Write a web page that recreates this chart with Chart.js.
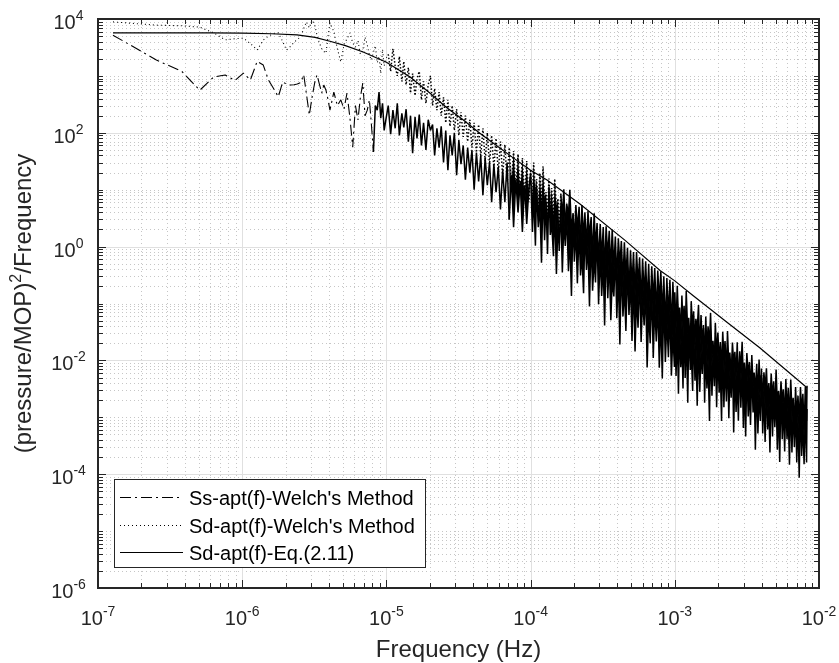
<!DOCTYPE html>
<html><head><meta charset="utf-8">
<script src="https://cdn.jsdelivr.net/npm/chart.js@4.4.1/dist/chart.umd.min.js"></script>
<style>html,body{margin:0;padding:0;background:#fff}canvas{display:block}</style>
</head><body>
<canvas id="c" width="839" height="663"></canvas>
<script>
// ---- data ----
const freqs = [
1.27e-7,2.54e-7,3.81e-7,5.08e-7,6.35e-7,7.62e-7,8.89e-7,1.02e-6,1.14e-6,1.27e-6,1.40e-6,1.52e-6,1.65e-6,1.78e-6,1.91e-6,2.03e-6,2.16e-6,2.29e-6,2.41e-6,2.54e-6,2.67e-6,2.79e-6,2.92e-6,3.05e-6,3.18e-6,3.30e-6,3.43e-6,3.56e-6,3.68e-6,3.81e-6,3.94e-6,4.06e-6,
4.32e-6,4.57e-6,4.83e-6,5.08e-6,5.33e-6,5.59e-6,5.84e-6,6.10e-6,6.35e-6,6.60e-6,6.86e-6,7.11e-6,7.37e-6,7.62e-6,7.87e-6,8.13e-6,8.38e-6,8.64e-6,8.89e-6,9.14e-6,9.40e-6,9.65e-6,9.91e-6,
1.03e-5,1.07e-5,1.11e-5,1.15e-5,1.19e-5,1.23e-5,1.28e-5,1.32e-5,1.37e-5,1.42e-5,1.47e-5,1.52e-5,1.58e-5,1.63e-5,1.69e-5,1.75e-5,1.81e-5,1.88e-5,1.95e-5,2.02e-5,2.09e-5,2.16e-5,2.24e-5,2.32e-5,2.40e-5,2.49e-5,2.58e-5,2.67e-5,2.76e-5,2.86e-5,2.96e-5,3.07e-5,3.18e-5,3.29e-5,3.41e-5,3.53e-5,3.66e-5,3.79e-5,3.92e-5,4.06e-5,4.21e-5,4.36e-5,4.51e-5,4.67e-5,4.84e-5,5.01e-5,5.19e-5,5.37e-5,5.56e-5,5.76e-5,5.97e-5,6.18e-5,6.40e-5,6.63e-5,6.87e-5,7.11e-5,7.36e-5,7.62e-5,7.90e-5,8.18e-5,8.47e-5,8.77e-5,9.08e-5,9.40e-5,9.74e-5,
1.00e-4,1.03e-4,1.05e-4,1.08e-4,1.10e-4,1.13e-4,1.16e-4,1.19e-4,1.22e-4,1.25e-4,1.28e-4,1.31e-4,1.34e-4,1.37e-4,1.40e-4,1.44e-4,1.47e-4,1.51e-4,1.55e-4,1.58e-4,1.62e-4,1.66e-4,1.70e-4,1.74e-4,1.78e-4,1.83e-4,1.87e-4,1.92e-4,1.97e-4,2.01e-4,2.06e-4,2.11e-4,2.17e-4,2.22e-4,2.27e-4,2.33e-4,2.38e-4,2.44e-4,2.50e-4,2.56e-4,2.63e-4,2.69e-4,2.76e-4,2.82e-4,2.89e-4,2.96e-4,3.04e-4,3.11e-4,3.19e-4,3.26e-4,3.34e-4,3.43e-4,3.51e-4,3.60e-4,3.68e-4,3.78e-4,3.87e-4,3.96e-4,4.06e-4,4.16e-4,4.26e-4,4.37e-4,4.47e-4,4.58e-4,4.70e-4,4.81e-4,4.93e-4,5.05e-4,5.17e-4,5.30e-4,5.43e-4,5.56e-4,5.70e-4,5.84e-4,5.98e-4,6.13e-4,6.28e-4,6.43e-4,6.59e-4,6.75e-4,6.92e-4,7.09e-4,7.26e-4,7.44e-4,7.62e-4,7.81e-4,8.00e-4,8.19e-4,8.39e-4,8.60e-4,8.81e-4,9.03e-4,9.25e-4,9.47e-4,9.70e-4,9.94e-4,
1.00e-3,1.02e-3,1.04e-3,1.06e-3,1.08e-3,1.10e-3,1.12e-3,1.14e-3,1.16e-3,1.18e-3,1.20e-3,1.23e-3,1.25e-3,1.28e-3,1.30e-3,1.33e-3,1.35e-3,1.38e-3,1.40e-3,1.43e-3,1.46e-3,1.49e-3,1.52e-3,1.55e-3,1.58e-3,1.61e-3,1.64e-3,1.67e-3,1.70e-3,1.74e-3,1.77e-3,1.81e-3,1.84e-3,1.88e-3,1.91e-3,1.95e-3,1.99e-3,2.03e-3,2.07e-3,2.11e-3,2.15e-3,2.19e-3,2.23e-3,2.28e-3,2.32e-3,2.37e-3,2.41e-3,2.46e-3,2.51e-3,2.56e-3,2.61e-3,2.66e-3,2.71e-3,2.76e-3,2.82e-3,2.87e-3,2.93e-3,2.99e-3,3.04e-3,3.10e-3,3.16e-3,3.23e-3,3.29e-3,3.35e-3,3.42e-3,3.49e-3,3.55e-3,3.62e-3,3.70e-3,3.77e-3,3.84e-3,3.92e-3,3.99e-3,4.07e-3,4.15e-3,4.23e-3,4.32e-3,4.40e-3,4.49e-3,4.57e-3,4.66e-3,4.76e-3,4.85e-3,4.94e-3,5.04e-3,5.14e-3,5.24e-3,5.34e-3,5.45e-3,5.56e-3,5.66e-3,5.78e-3,5.89e-3,6.00e-3,6.12e-3,6.24e-3,6.37e-3,6.49e-3,6.62e-3,6.75e-3,6.88e-3,7.01e-3,7.15e-3,7.29e-3,7.44e-3,7.58e-3,7.73e-3,7.88e-3,8.04e-3,8.20e-3,8.26e-3
];

const ssWelch = [
5200,1900,1200,560,960,1040,830,1120,850,1800,1550,850,600,430,780,720,690,700,720,760,1050,480,205,420,750,1040,720,500,690,560,380,250,
520,300,380,260,500,180,56,300,168,420,750,200,250,380,140,46,300,250,520,180,330,110,168,
300,95,250,120,330,90,220,125,260,70,200,44,190,80,210,60,150,50,170,110,140,40,120,55,130,30,110,22,90,40,100,18,75,28,60,15,55,20,50,10,45,14,40,8,36,12,30,6,28,9,25,4.5,22,6,30,3,18,2.2,15,4,14,1.8,12,2.5,11,
19.5,1.8,8.4,1.04,11.5,2.2,5.0,0.52,10.5,1.29,6.1,0.74,11.2,1.6,2.7,0.68,5.0,0.33,2.85,0.84,5.3,0.35,2.65,1.03,3.7,0.37,1.56,0.136,3.9,0.54,1.94,0.226,2.0,0.31,0.73,0.152,2.15,0.39,1.05,0.089,1.47,0.167,0.61,0.234,1.85,0.097,0.76,0.136,0.50,0.041,0.97,0.124,0.63,0.051,0.26,0.133,0.79,0.055,0.32,0.019,0.47,0.059,0.19,0.033,0.43,0.063,0.238,0.022,0.248,0.0143,0.137,0.0375,0.32,0.021,0.129,0.041,0.184,0.0075,0.074,0.02,0.173,0.011,0.095,0.0215,0.099,0.0074,0.055,0.0048,0.129,0.0094,0.051,0.0114,0.074,0.0054,0.029,0.0077,
0.072,0.0053,0.035,0.0026,0.045,0.0076,0.0225,0.0032,0.064,0.0049,0.032,0.0018,0.041,0.0068,0.0147,0.0029,0.041,0.0044,0.0207,0.0016,0.026,0.0028,0.0152,0.0058,0.042,0.0018,0.018,0.0032,0.0106,0.00086,0.0213,0.0024,0.0126,0.0035,0.0215,0.0015,0.0147,0.0027,0.0064,0.00086,0.020,0.0015,0.0088,0.0019,0.0129,0.00096,0.0066,0.0022,0.0129,0.00054,0.0077,0.00124,0.0046,0.00087,0.012,0.00147,0.0072,0.00065,0.005,0.00046,0.0072,0.00103,0.0032,0.00073,0.0072,0.00121,0.0044,0.00027,0.0047,0.00052,0.0028,0.00086,0.0072,0.00052,0.0028,0.00037,0.004,0.00061,0.0016,0.00024,0.004,0.00046,0.0025,0.00067,0.0026,0.00027,0.0016,0.000164,0.0035,0.00041,0.0016,0.00025,0.0023,0.00041,0.00106,0.000147,0.0022,0.00024,0.0014,0.0003,0.0015,0.00016,0.00105,0.000087,0.0019,0.00021,0.0008,0.00015,0.00127,0.00016,0.0014
];

const sdWelch = [
8900,7800,7600,7200,5700,4300,4500,4600,3700,2850,4270,5000,5500,5700,4000,2850,3300,3900,4400,4800,6800,8900,7000,9600,8000,5200,3800,3000,2700,2500,5000,8500,
6000,3000,1750,3500,4500,5700,3800,3200,4200,2400,2800,4800,3500,2300,1900,2600,3400,1700,2200,1100,2900,1500,2000,
2400,1200,3000,1500,1000,2200,800,1800,700,1400,500,1100,450,900,1200,380,800,330,700,1000,300,600,250,520,200,420,150,380,130,300,110,260,90,230,85,200,70,170,55,150,45,140,38,120,32,100,28,90,24,80,20,70,17,62,14,55,12,48,10,42,8.5,36,7,32,6,
22.9,7.1,29.9,9.2,15.4,4.7,19.8,6.0,25.8,7.1,9.0,3.6,15.7,4.8,10.7,3.5,15.5,5.1,7.0,2.1,8.5,3.35,10.2,2.0,5.7,3.6,10.0,1.96,3.7,1.3,5.4,2.1,5.0,0.93,5.4,1.37,4.0,1.0,4.2,1.5,3.3,0.65,3.85,0.97,2.6,0.57,2.5,0.63,2.2,0.37,2.27,0.68,1.9,0.40,2.0,0.44,1.5,0.26,1.4,0.48,1.25,0.23,1.19,0.31,0.95,0.146,0.86,0.20,0.80,0.143,0.80,0.22,0.65,0.102,0.62,0.141,0.55,0.101,0.50,0.065,0.45,0.112,0.42,0.064,0.38,0.111,0.37,0.064,0.30,0.040,0.28,0.063,0.26,0.036,0.24,0.045,
0.158,0.038,0.205,0.056,0.085,0.0234,0.138,0.038,0.091,0.0229,0.165,0.0295,0.056,0.0157,0.110,0.0316,0.073,0.0189,0.054,0.0337,0.094,0.0146,0.063,0.0207,0.0375,0.0102,0.059,0.0144,0.0396,0.0202,0.068,0.0111,0.0221,0.0084,0.046,0.013,0.031,0.0098,0.0211,0.0061,0.032,0.0113,0.0219,0.0064,0.0329,0.008,0.0138,0.005,0.0206,0.0091,0.0141,0.0052,0.0209,0.0036,0.0145,0.006,0.0212,0.0045,0.0092,0.0035,0.0135,0.0052,0.0094,0.0028,0.0124,0.0037,0.0061,0.0028,0.0087,0.002,0.0104,0.0032,0.0056,0.0021,0.0062,0.0032,0.0073,0.0021,0.004,0.0015,0.0059,0.0022,0.0043,0.0012,0.0069,0.00175,0.0029,0.00137,0.0043,0.0018,0.0031,0.00098,0.0047,0.00121,0.0033,0.00094,0.0046,0.00128,0.0022,0.00067,0.0034,0.00101,0.0024,0.00078,0.0034,0.0012,0.0026,0.00061,0.0034,0.00086,0.0036
];

const eqFreqs = [1.27e-7,3e-7,6e-7,1e-6,1.6e-6,2.4e-6,3.2e-6,4.06e-6,5.2e-6,6.9e-6,1e-5,1.46e-5,2e-5,2.6e-5,3.4e-5,4.4e-5,5.8e-5,7.5e-5,1e-4,1.3e-4,2.2e-4,4.5e-4,7.9e-4,1e-3,1.35e-3,2.3e-3,3.9e-3,8.26e-3];
const sdEq = [5700,5700,5700,5650,5500,5250,4750,4070,3400,2630,1740,955,500,282,170,100,60,37,22,14.8,5.6,1.3,0.38,0.25,0.135,0.047,0.0165,0.0033];

const seriesLabels = ["Ss-apt(f)-Welch's Method", "Sd-apt(f)-Welch's Method", "Sd-apt(f)-Eq.(2.11)"];
const xTickExponents = [-7,-6,-5,-4,-3,-2];
const yTickExponents = [-6,-4,-2,0,2,4];
const xTitle = "Frequency (Hz)";
const yTitleParts = ["(pressure/MOP)", "2", "/Frequency"];

// ---- styling ----
const FONT = '"Liberation Sans", Arial, Helvetica, sans-serif';
const AX = '#262626';
const dashDot = [11,4,2,4];
const dotted = [1,3];
// where the noisy traces become so dense that their dash pattern is no longer visible
const SS_DENSE_FROM = 8e-6;
const SD_SPECKLE_FROM = 1e-5;
const SD_DENSE_FROM = 1.6e-4;
const BAND_FILL_FROM = 7e-5;
const CLEAR = 'rgba(0,0,0,0)';

function pts(xs, ys){ return xs.map((f,i)=>({x:f, y:ys[i]})); }

const frame = {
  id: 'matlabFrame',
  beforeDatasetsDraw(chart){
    const {ctx, chartArea:a, scales:{x, y}} = chart;
    ctx.save();
    ctx.lineWidth = 1;
    ctx.strokeStyle = '#c6c6c6';
    ctx.setLineDash([1,3]);
    ctx.beginPath();
    for (let e = xTickExponents[0]; e < xTickExponents[xTickExponents.length-1]; e++) {
      for (let k = 2; k <= 9; k++) {
        const px = Math.round(x.getPixelForValue(k*Math.pow(10,e))) + 0.5;
        ctx.moveTo(px, a.top); ctx.lineTo(px, a.bottom);
      }
    }
    for (let e = yTickExponents[0]; e < yTickExponents[yTickExponents.length-1]; e++) {
      for (let k = 1; k <= 9; k++) {
        if (k === 1 && yTickExponents.includes(e)) continue;
        const py = Math.round(y.getPixelForValue(k*Math.pow(10,e))) + 0.5;
        ctx.moveTo(a.left, py); ctx.lineTo(a.right, py);
      }
    }
    ctx.stroke();
    ctx.setLineDash([]);
    ctx.strokeStyle = '#e0e0e0';
    ctx.beginPath();
    xTickExponents.forEach(e => {
      const px = Math.round(x.getPixelForValue(Math.pow(10,e))) + 0.5;
      ctx.moveTo(px, a.top); ctx.lineTo(px, a.bottom);
    });
    yTickExponents.forEach(e => {
      const py = Math.round(y.getPixelForValue(Math.pow(10,e))) + 0.5;
      ctx.moveTo(a.left, py); ctx.lineTo(a.right, py);
    });
    ctx.stroke();
    ctx.restore();
  },
  afterDatasetsDraw(chart){
    const {ctx, chartArea:a, scales:{x, y}} = chart;
    ctx.save();
    ctx.strokeStyle = AX;
    ctx.lineWidth = 1;
    ctx.beginPath();
    const xt = (v, len) => { const px = Math.round(x.getPixelForValue(v)) + 0.5;
      ctx.moveTo(px, a.bottom); ctx.lineTo(px, a.bottom - len);
      ctx.moveTo(px, a.top); ctx.lineTo(px, a.top + len); };
    const yt = (v, len) => { const py = Math.round(y.getPixelForValue(v)) + 0.5;
      ctx.moveTo(a.left, py); ctx.lineTo(a.left + len, py);
      ctx.moveTo(a.right, py); ctx.lineTo(a.right - len, py); };
    for (let e = xTickExponents[0]; e < xTickExponents[xTickExponents.length-1]; e++) {
      for (let k = 2; k <= 9; k++) xt(k*Math.pow(10,e), 5);
    }
    xTickExponents.forEach(e => xt(Math.pow(10,e), 8));
    for (let e = yTickExponents[0]; e < yTickExponents[yTickExponents.length-1]; e++) {
      for (let k = 1; k <= 9; k++) {
        if (k === 1 && yTickExponents.includes(e)) continue;
        yt(k*Math.pow(10,e), 5);
      }
    }
    yTickExponents.forEach(e => yt(Math.pow(10,e), 8));
    ctx.stroke();
    ctx.lineWidth = 2;
    ctx.strokeRect(a.left, a.top, a.right - a.left, a.bottom - a.top);
    ctx.restore();
  },
  afterDraw(chart){
    const {ctx, chartArea:a, scales:{x, y}} = chart;
    ctx.save();
    ctx.fillStyle = AX;
    ctx.textBaseline = 'alphabetic';
    ctx.textAlign = 'left';
    const mainF = '20px ' + FONT, expF = '14px ' + FONT;
    function powLabel(cx, base, e){
      ctx.font = mainF; const w1 = ctx.measureText('10').width;
      const es = String(e);
      ctx.font = expF; const w2 = ctx.measureText(es).width;
      const sx = cx - (w1 + w2)/2;
      ctx.font = mainF; ctx.fillText('10', sx, base);
      ctx.font = expF; ctx.fillText(es, sx + w1, base - 9);
    }
    xTickExponents.forEach(e => {
      const px = x.getPixelForValue(Math.pow(10,e));
      powLabel(px, a.bottom + 37, e);
    });
    yTickExponents.forEach(e => {
      const py = y.getPixelForValue(Math.pow(10,e));
      powLabel(a.left - 29.5, py + 10, e);
    });
    ctx.font = '24px ' + FONT;
    ctx.textAlign = 'center';
    ctx.fillText(xTitle, (a.left + a.right)/2, a.bottom + 69);
    ctx.textAlign = 'left';
    const bigF = '24px ' + FONT, supF = '16px ' + FONT;
    ctx.font = bigF; const w1 = ctx.measureText(yTitleParts[0]).width;
    ctx.font = supF; const w2 = ctx.measureText(yTitleParts[1]).width;
    ctx.font = bigF; const w3 = ctx.measureText(yTitleParts[2]).width;
    const tot = w1 + w2 + w3;
    ctx.translate(31, (a.top + a.bottom)/2);
    ctx.rotate(-Math.PI/2);
    const sx = -tot/2;
    ctx.font = bigF; ctx.fillText(yTitleParts[0], sx, 0);
    ctx.font = supF; ctx.fillText(yTitleParts[1], sx + w1, -10);
    ctx.font = bigF; ctx.fillText(yTitleParts[2], sx + w1 + w2, 0);
    ctx.setTransform(1,0,0,1,0,0);
    // legend
    const lx = a.left + 16, ly = a.bottom - 109, lw = 311, lh = 88;
    ctx.fillStyle = '#fff';
    ctx.fillRect(lx, ly, lw, lh);
    ctx.strokeStyle = AX; ctx.lineWidth = 1;
    ctx.strokeRect(lx + 0.5, ly + 0.5, lw, lh);
    const rows = [18, 46, 73];
    chart.data.datasets.forEach((ds, i) => {
      const yy = ly + rows[i] + 0.5;
      ctx.strokeStyle = '#000';
      ctx.lineWidth = ds.borderWidth;
      ctx.setLineDash(ds.borderDash || []);
      ctx.beginPath(); ctx.moveTo(lx + 6, yy); ctx.lineTo(lx + 69, yy); ctx.stroke();
      ctx.setLineDash([]);
      ctx.fillStyle = '#000';
      ctx.font = '20px ' + FONT;
      ctx.textAlign = 'left';
      ctx.fillText(ds.label, lx + 75, ly + rows[i] + 8);
    });
    ctx.restore();
  }
};

new Chart(document.getElementById('c'), {
  type: 'line',
  data: {
    datasets: [
      { label: seriesLabels[0], order: 2, data: pts(freqs, ssWelch), borderColor: '#000', borderWidth: 1.1, borderDash: dashDot, borderJoinStyle: 'bevel', pointRadius: 0, tension: 0,
        fill: '+1', backgroundColor: CLEAR,
        segment: {
          borderDash: c => freqs[c.p0DataIndex] >= SS_DENSE_FROM ? [] : dashDot,
          borderWidth: c => freqs[c.p0DataIndex] >= SS_DENSE_FROM ? 1.5 : 1.1,
          backgroundColor: c => freqs[c.p0DataIndex] >= BAND_FILL_FROM ? '#000' : CLEAR
        } },
      { label: seriesLabels[1], order: 1, data: pts(freqs, sdWelch), borderColor: '#000', borderWidth: 1.1, borderDash: dotted, borderJoinStyle: 'bevel', pointRadius: 0, fill: false, tension: 0,
        segment: {
          borderDash: c => freqs[c.p0DataIndex] >= SD_DENSE_FROM ? [] : (freqs[c.p0DataIndex] >= SD_SPECKLE_FROM ? [1.5,2] : dotted),
          borderWidth: c => freqs[c.p0DataIndex] >= SD_SPECKLE_FROM ? 1.5 : 1.1
        } },
      { label: seriesLabels[2], order: 0, data: pts(eqFreqs, sdEq), borderColor: '#000', borderWidth: 1.2, borderDash: [], pointRadius: 0, fill: false, tension: 0 }
    ]
  },
  options: {
    responsive: false,
    animation: false,
    events: [],
    parsing: false,
    layout: { padding: { left: 98, right: 20, top: 19, bottom: 75 } },
    plugins: { legend: { display: false }, tooltip: { enabled: false }, title: { display: false } },
    scales: {
      x: { type: 'logarithmic', min: 1e-7, max: 1e-2, display: false },
      y: { type: 'logarithmic', min: 1e-6, max: 1e4, display: false }
    }
  },
  plugins: [frame]
});
</script>
</body></html>
